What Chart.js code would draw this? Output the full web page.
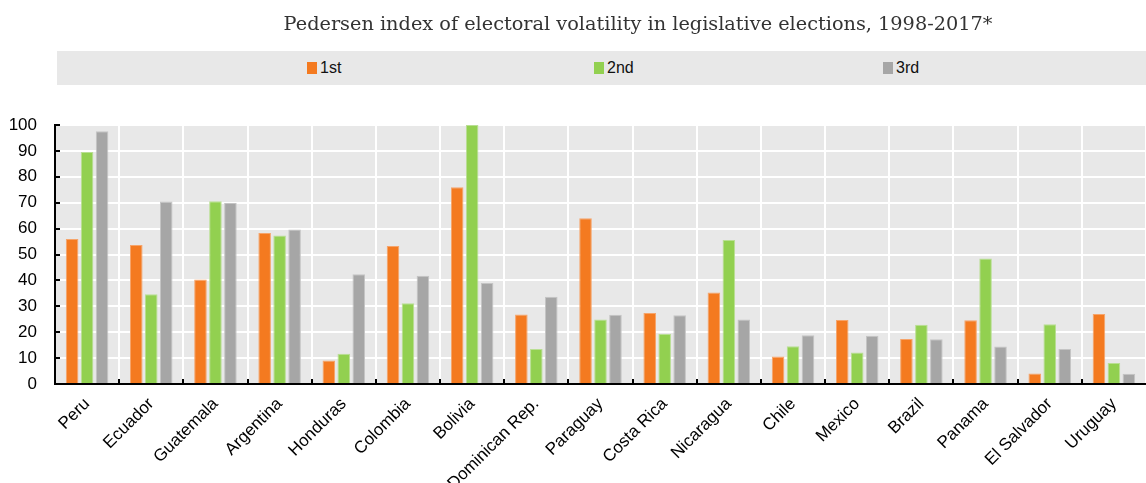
<!DOCTYPE html>
<html>
<head>
<meta charset="utf-8">
<script src="https://cdn.jsdelivr.net/npm/chart.js@4"></script>
<style>
  body { margin: 0; background: #fff; }
  #wrap { position: relative; width: 1146px; height: 483px; overflow: hidden; }
  #titre {
    position: absolute; left: 0; top: 12px; width: 1276px; text-align: center;
    font-family: "DejaVu Serif", serif; font-size: 19.3px; color: #333;
  }
  #legende {
    position: absolute; left: 57px; top: 51px; width: 1089px; height: 34px;
    background: #e8e8e8; font-family: "Liberation Sans", Arial, sans-serif; font-size: 16px;
  }
  .item { position: absolute; top: 8px; color: #111; }
  .item span { display: inline-block; width: 10px; height: 12px; margin-right: 3px; vertical-align: -1px; }
  #graf { position: absolute; left: 0; top: 0; }
</style>
</head>
<body>
<div id="wrap">
  <canvas id="graf" width="1146" height="483"></canvas>
  <div id="titre">Pedersen index of electoral volatility in legislative elections, 1998-2017*</div>
  <div id="legende"></div>
</div>
<script>
const paises = ["Peru", "Ecuador", "Guatemala", "Argentina", "Honduras", "Colombia", "Bolivia",
  "Dominican Rep.", "Paraguay", "Costa Rica", "Nicaragua", "Chile", "Mexico", "Brazil",
  "Panama", "El Salvador", "Uruguay"];
const primeira = [56, 53.7, 40.3, 58.3, 9.1, 53.3, 76, 26.8, 64, 27.4, 35.3, 10.6, 24.7, 17.4, 24.6, 4.1, 27];
const segunda = [89.6, 34.7, 70.6, 57.3, 11.7, 31.2, 100, 13.5, 24.9, 19.3, 55.6, 14.6, 12.2, 22.9, 48.5, 23.1, 8.1];
const terceira = [97.6, 70.5, 69.9, 59.7, 42.4, 41.8, 39, 33.7, 26.7, 26.5, 24.9, 18.8, 18.6, 17.3, 14.5, 13.5, 4];
const nomesSeries = ["1st", "2nd", "3rd"];
const cores = ["#f47a20", "#92d050", "#a6a6a6"];
const bordas = ["#f6a46a", "#b9df93", "#c4c4c4"];
const eixoY = { min: 0, max: 100, passo: 10 };

// fundo cinza da area do grafico
const fundo = {
  id: "fundo",
  beforeDraw(chart) {
    const { ctx, chartArea: a } = chart;
    ctx.save();
    ctx.fillStyle = "#e8e8e8";
    ctx.fillRect(a.left, a.top, a.right - a.left, a.bottom - a.top);
    ctx.restore();
  }
};

// marcas pretas curtas para dentro (como no original)
const marcas = {
  id: "marcas",
  afterDraw(chart) {
    const { ctx, chartArea: a, scales } = chart;
    ctx.save();
    ctx.strokeStyle = "#000";
    ctx.lineWidth = 2;
    ctx.beginPath();
    const n = paises.length;
    for (let i = 1; i < n; i++) {
      const x = Math.round((scales.x.getPixelForValue(i - 1) + scales.x.getPixelForValue(i)) / 2);
      ctx.moveTo(x, a.bottom);
      ctx.lineTo(x, a.bottom - 5);
    }
    scales.y.ticks.forEach(t => {
      const y = Math.round(scales.y.getPixelForValue(t.value));
      ctx.moveTo(a.left, y);
      ctx.lineTo(a.left + 5, y);
    });
    ctx.stroke();
    ctx.restore();
  }
};

const dados = [primeira, segunda, terceira];
const ctx = document.getElementById("graf").getContext("2d");
const grafico = new Chart(ctx, {
  type: "bar",
  data: {
    labels: paises,
    datasets: nomesSeries.map((nome, i) => ({
      label: nome,
      data: dados[i],
      backgroundColor: cores[i],
      borderColor: bordas[i],
      borderWidth: 1,
      categoryPercentage: 0.7,
      barPercentage: 0.84
    }))
  },
  options: {
    responsive: false,
    animation: false,
    layout: { padding: { top: 125, left: 0, right: 0, bottom: 0 } },
    plugins: { legend: { display: false }, title: { display: false }, tooltip: { enabled: false } },
    scales: {
      x: {
        afterFit: s => { s.height = 99; },
        grid: { color: "#ffffff", lineWidth: 2, drawTicks: false, offset: true },
        border: { color: "#000", width: 2 },
        ticks: {
          color: "#000", minRotation: 45, maxRotation: 45, padding: 10, autoSkip: false,
          font: { family: "Liberation Sans", size: 17 }
        }
      },
      y: {
        min: eixoY.min, max: eixoY.max,
        afterFit: s => { s.width = 55; },
        grid: { color: "#ffffff", lineWidth: 2, drawTicks: false },
        border: { color: "#000", width: 2 },
        ticks: {
          stepSize: eixoY.passo, color: "#000", padding: 18,
          font: { family: "Liberation Sans", size: 17 }
        }
      }
    }
  },
  plugins: [fundo, marcas]
});

// legenda em html
const legenda = document.getElementById("legende");
const posicoes = [250, 537, 826];
nomesSeries.forEach((nome, i) => {
  const d = document.createElement("div");
  d.className = "item";
  d.style.left = posicoes[i] + "px";
  d.innerHTML = `<span style="background:${cores[i]}"></span>${nome}`;
  legenda.appendChild(d);
});
</script>
</body>
</html>
